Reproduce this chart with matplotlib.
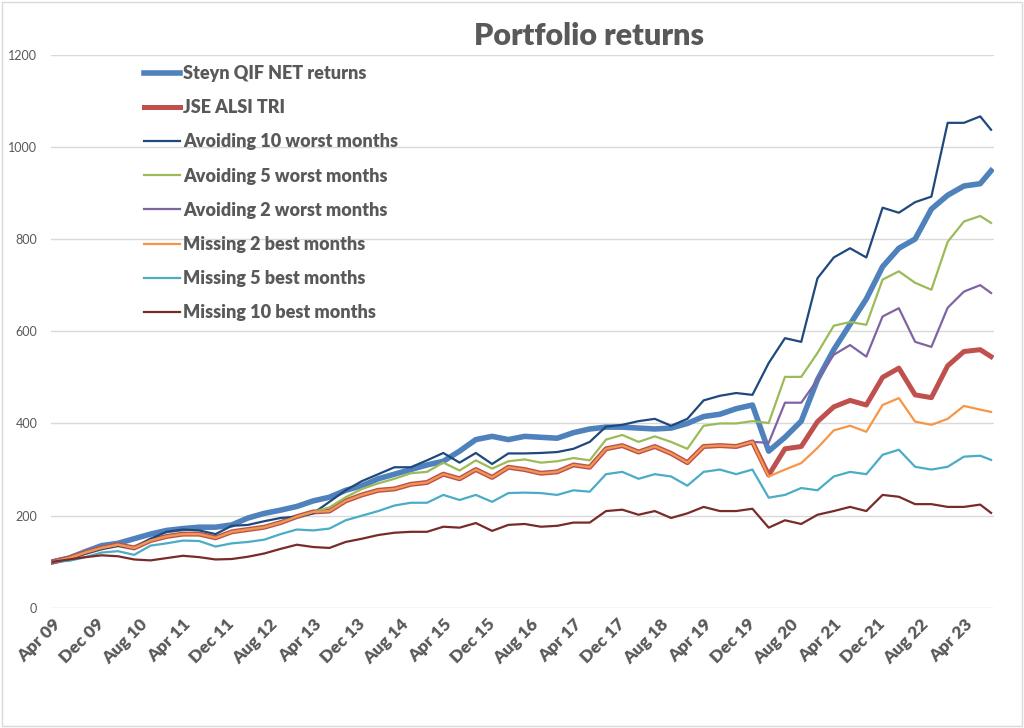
import matplotlib
matplotlib.use("Agg")
import matplotlib.pyplot as plt
from matplotlib.patches import Rectangle

plt.rcParams['font.family'] = ['Lato', 'DejaVu Sans']

# month offsets from Apr 2009 (sampled every 3 months, last point Sep 2023)
months = list(range(0, 172, 3)) + [173]

tick_pos = list(range(0, 169, 8))
tick_labels = ['Apr 09', 'Dec 09', 'Aug 10', 'Apr 11', 'Dec 11', 'Aug 12', 'Apr 13',
               'Dec 13', 'Aug 14', 'Apr 15', 'Dec 15', 'Aug 16', 'Apr 17', 'Dec 17',
               'Aug 18', 'Apr 19', 'Dec 19', 'Aug 20', 'Apr 21', 'Dec 21', 'Aug 22', 'Apr 23']

steyn = [100, 108, 122, 135, 140, 150, 160, 168, 172, 175, 175, 180, 195, 205, 212,
         220, 232, 240, 255, 265, 280, 290, 300, 310, 318, 340, 365, 372, 365, 372,
         370, 368, 380, 388, 392, 392, 390, 388, 390, 400, 415, 420, 432, 440, 340,
         370, 405, 495, 560, 615, 670, 740, 780, 800, 865, 895, 915, 920, 948]

alsi = [100, 108, 120, 130, 137, 130, 146, 155, 160, 160, 152, 165, 170, 175, 185,
        198, 208, 210, 232, 245, 255, 258, 268, 272, 290, 280, 300, 283, 305, 300,
        292, 295, 310, 305, 345, 352, 338, 350, 335, 315, 350, 352, 350, 360, 288,
        345, 350, 404, 436, 450, 440, 500, 520, 462, 456, 525, 556, 560, 545]

avoid10 = [100, 108, 118, 128, 135, 130, 150, 165, 170, 168, 160, 178, 180, 188, 195,
           198, 205, 230, 255, 275, 290, 305, 305, 320, 336, 315, 336, 312, 335, 335,
           336, 338, 345, 360, 393, 397, 405, 410, 395, 410, 450, 460, 466, 462, 531,
           585, 577, 715, 760, 780, 760, 868, 857, 880, 892, 1052, 1052, 1066, 1037]

avoid5 = [100, 108, 120, 130, 137, 130, 146, 155, 160, 160, 152, 165, 170, 175, 185,
          198, 208, 218, 240, 258, 270, 280, 292, 295, 315, 298, 320, 302, 318, 322,
          315, 318, 325, 320, 365, 375, 360, 372, 360, 345, 395, 400, 400, 405, 401,
          501, 501, 553, 612, 620, 614, 712, 730, 705, 690, 794, 838, 850, 835]

avoid2 = [100, 108, 120, 130, 137, 130, 146, 155, 160, 160, 152, 165, 170, 175, 185,
          198, 208, 210, 232, 245, 255, 258, 268, 272, 290, 280, 300, 283, 305, 300,
          292, 295, 310, 305, 345, 352, 338, 350, 335, 315, 350, 352, 350, 360, 358,
          445, 445, 495, 549, 570, 545, 632, 650, 577, 566, 651, 686, 700, 683]

miss2 = [100, 108, 120, 130, 137, 130, 146, 155, 160, 160, 152, 165, 170, 175, 185,
         198, 208, 210, 232, 245, 255, 258, 268, 272, 290, 280, 300, 283, 305, 300,
         292, 295, 310, 305, 345, 352, 338, 350, 335, 315, 350, 352, 350, 360, 285,
         300, 314, 347, 385, 395, 382, 440, 455, 404, 397, 410, 438, 430, 425]

miss5 = [100, 102, 110, 120, 123, 115, 135, 140, 146, 145, 133, 140, 143, 148, 160,
         170, 168, 172, 190, 200, 210, 222, 228, 228, 245, 234, 245, 230, 249, 250,
         249, 245, 255, 252, 290, 295, 280, 290, 285, 265, 295, 300, 290, 300, 239,
         245, 260, 255, 285, 295, 290, 332, 343, 306, 300, 306, 328, 330, 321]

miss10 = [100, 105, 110, 114, 112, 105, 103, 108, 113, 110, 105, 106, 111, 118, 128,
          137, 132, 130, 143, 150, 158, 163, 165, 165, 176, 174, 184, 167, 180, 182,
          176, 178, 185, 185, 210, 213, 202, 210, 195, 205, 219, 210, 210, 215, 174,
          190, 182, 202, 210, 219, 210, 245, 241, 225, 225, 219, 219, 224, 206]

series = [
    ('Steyn QIF NET returns', steyn, '#4F81BD', 4.0),
    ('JSE ALSI TRI', alsi, '#C0504D', 3.6),
    ('Avoiding 10 worst months', avoid10, '#1F497D', 1.6),
    ('Avoiding 5 worst months', avoid5, '#9BBB59', 1.6),
    ('Avoiding 2 worst months', avoid2, '#8064A2', 1.6),
    ('Missing 2 best months', miss2, '#F79646', 1.6),
    ('Missing 5 best months', miss5, '#4BACC6', 1.6),
    ('Missing 10 best months', miss10, '#772C2A', 1.6),
]

grey = '#595959'

fig = plt.figure(figsize=(10.24, 7.28), dpi=100)
ax = fig.add_axes([0.05, 0.165, 0.921, 0.76])

for name, vals, color, lw in series:
    ax.plot(months, vals, color=color, lw=lw, label=name, solid_joinstyle='round')

ax.set_ylim(0, 1200)
ax.set_yticks(range(0, 1201, 200))
ax.set_xlim(-0.3, 173.6)
ax.set_xticks(tick_pos)
ax.set_xticklabels(tick_labels, rotation=45, ha='right', rotation_mode='anchor',
                   fontsize=12.5, fontweight='heavy', color=grey)
ax.tick_params(axis='y', labelsize=9, labelcolor=grey, length=0, pad=10)
ax.tick_params(axis='x', length=0, pad=6)
ax.grid(axis='y', color='#d9d9d9', lw=1)
ax.set_axisbelow(True)
for s in ax.spines.values():
    s.set_visible(False)

fig.text(0.575, 0.950, 'Portfolio returns', ha='center', va='center',
         fontsize=22, fontweight='heavy', color=grey)

leg = ax.legend(loc='upper left', bbox_to_anchor=(0.132, 0.923),
                bbox_transform=fig.transFigure, frameon=False, borderpad=0,
                handlelength=2.0, handletextpad=0.15, labelspacing=0.95,
                prop={'size': 13})
for t in leg.get_texts():
    t.set_color(grey)
    t.set_fontweight('heavy')

fig.patches.append(Rectangle((0.002, 0.003), 0.996, 0.994, transform=fig.transFigure,
                             fill=False, edgecolor='#d9d9d9', lw=1))

fig.savefig('out.png', dpi=100, facecolor='white')
